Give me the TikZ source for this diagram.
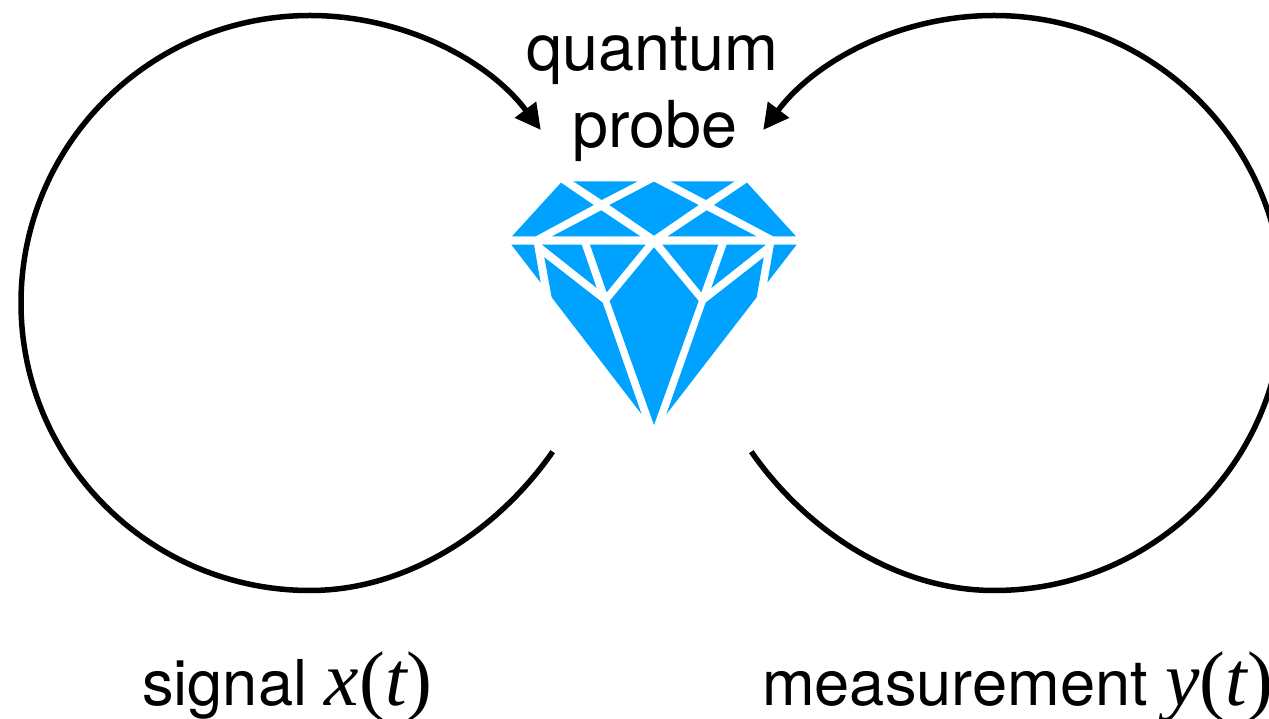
\documentclass[tikz,border=0pt]{standalone}
\usepackage{fontspec}
\setmainfont{TeX Gyre Heros}
\newfontfamily\serifmath{Liberation Serif}
\usetikzlibrary{arrows.meta}
\definecolor{gem}{HTML}{00A2FF}
\tikzset{
  loopline/.style={line width=5.5pt,black},
  looparrow/.style={loopline,-{Triangle[length=25.5pt,width=25.5pt]}},
  facet/.style={fill=gem,draw=none},
  toplabel/.style={inner sep=0pt,anchor=base,font=\fontsize{64.7}{65}\selectfont},
  botlabel/.style={inner sep=0pt,anchor=base west,font=\fontsize{63.2}{64}\selectfont}
}
\newcommand{\mvar}[1]{{\serifmath\fontsize{77.5}{78}\selectfont\itshape #1}}
\newcommand{\mpar}[1]{{\serifmath\fontsize{77.5}{78}\selectfont #1}}
\begin{document}
\begin{tikzpicture}[x=1pt,y=1pt]
\useasboundingbox (0,0) rectangle (1269,718);
\clip (0,0) rectangle (1269,718);
% loops
\coordinate (leftstart) at (552.7,266.3);
\coordinate (leftbottom) at (310,127.5);
\coordinate (rightstart) at (751.3,266.3);
\coordinate (rightbottom) at (994,127.5);
\draw[looparrow] (leftstart) .. controls (497.7,187.3) and (407.5,127.5) .. (leftbottom)
  arc[start angle=-90,end angle=-323,x radius=289,y radius=287.5];
\draw[looparrow] (rightstart) .. controls (806.3,187.3) and (896.5,127.5) .. (rightbottom)
  arc[start angle=270,end angle=503,x radius=289,y radius=287.5];
% labels
\node[toplabel] (quantum) at (652.5,647.5) {quantum};
\node[toplabel] (probe) at (655,570.5) {probe};
\node[botlabel] (signal) at (142,13) {signal \mvar{x}\mpar{(}\mvar{t}\mpar{)}};
\node[botlabel] (measurement) at (762,13) {measurement \mvar{y}\mpar{(}\mvar{t}\mpar{)}};
% diamond
\begin{scope}[shift={(500,548)},x=0.3333pt,y=-0.3333pt]
\fill[facet] (36,199)--(107,199)--(281,105)--(183,38)--cycle;
\fill[facet] (220,34)--(413,34)--(305,90)--cycle;
\fill[facet] (462,35)--(596,105)--(462,197)--(328,105)--cycle;
\fill[facet] (512,34)--(704,34)--(618,90)--cycle;
\fill[facet] (741,38)--(888,199)--(820,199)--(642,105)--cycle;
\fill[facet] (304,121)--(421,199)--(156,199)--cycle;
\fill[facet] (620,121)--(770,199)--(503,199)--cycle;
\fill[facet] (34,224)--(102,224)--(122,338)--cycle;
\fill[facet] (126,224)--(245,224)--(290,354)--cycle;
\fill[facet] (270,224)--(437,224)--(320,367)--cycle;
\fill[facet] (487,224)--(655,224)--(604,367)--cycle;
\fill[facet] (680,224)--(798,224)--(634,354)--cycle;
\fill[facet] (822,224)--(890,224)--(802,338)--cycle;
\fill[facet] (133,262)--(308,398)--(425,733)--(155,382)--cycle;
\fill[facet] (462,232)--(596,393)--(462,765)--(329,393)--cycle;
\fill[facet] (791,262)--(617,398)--(499,733)--(770,382)--cycle;
\end{scope}
\end{tikzpicture}
\end{document}
